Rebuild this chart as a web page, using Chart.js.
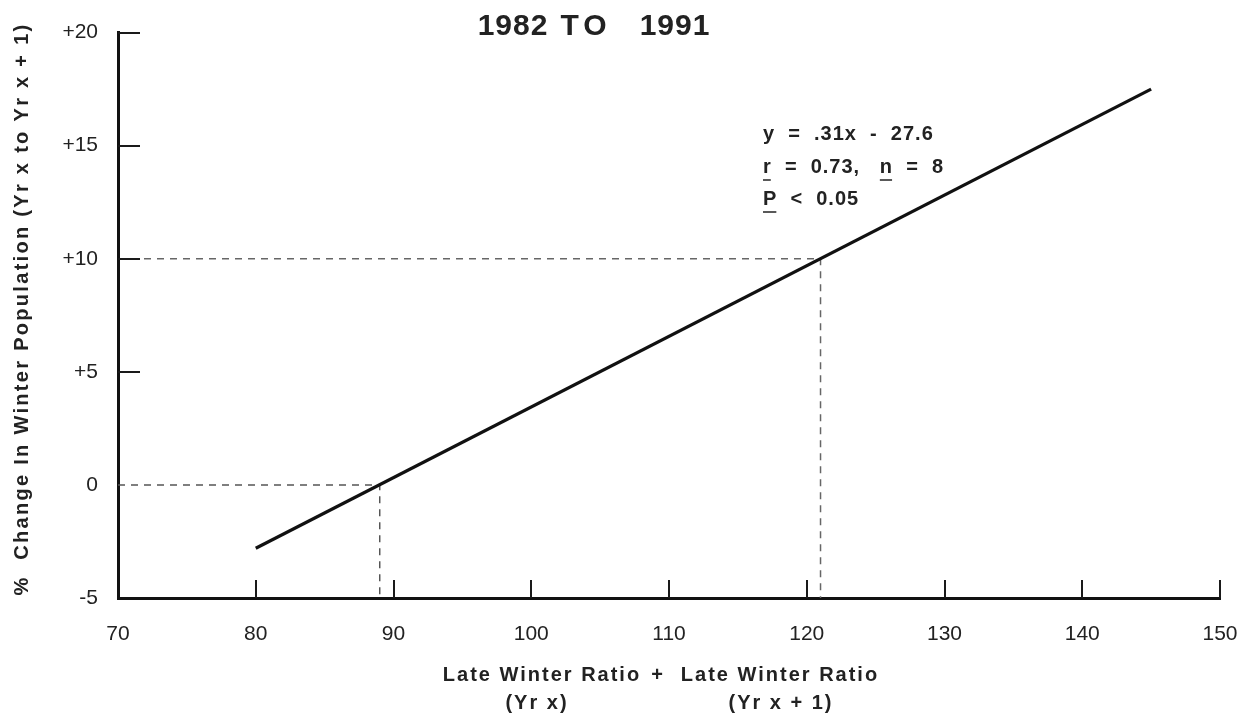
<!DOCTYPE html>
<html>
<head>
<meta charset="utf-8">
<script src="https://cdn.jsdelivr.net/npm/chart.js@4"></script>
<style>
  html, body { margin: 0; padding: 0; background: #ffffff; }
  #wrap { width: 1256px; height: 717px; }
</style>
</head>
<body>
<div id="wrap"><canvas id="c" width="1256" height="717"></canvas></div>
<script>
// ---- data ----
const xTickValues = [70, 80, 90, 100, 110, 120, 130, 140, 150];
const xTickLabels = ['70', '80', '90', '100', '110', '120', '130', '140', '150'];
const yTickValues = [-5, 0, 5, 10, 15, 20];
const yTickLabels = ['-5', '0', '+5', '+10', '+15', '+20'];
const xTickMarks = [80, 90, 100, 110, 120, 130, 140, 150];
const yTickMarks = [5, 10, 15, 20];

const regressionX = [80, 145];
const regressionY = [-2.8, 17.5];
const guideHighX = [70, 121, 121];
const guideHighY = [10, 10, -5];
const guideLowX = [70, 89, 89];
const guideLowY = [0, 0, -5];

const titleWords = ['1982', 'TO', '1991'];
const statLines = ['y  =  .31x  -  27.6', 'r  =  0.73,   n  =  8', 'P  <  0.05'];
const xTitleParts = ['Late Winter Ratio', '+', 'Late Winter Ratio'];
const xTitleSubs = ['(Yr x)', '(Yr x + 1)'];
const yTitle = '%  Change In Winter Population (Yr x to Yr x + 1)';

function pts(xs, ys) { return xs.map((x, i) => ({ x: x, y: ys[i] })); }

const TEXT = '#222222';
const FONT = '"Liberation Sans", Arial, Helvetica, sans-serif';

const decor = {
  id: 'decor',
  afterDraw(chart) {
    const ctx = chart.ctx;
    const xs = chart.scales.x, ys = chart.scales.y;
    ctx.save();
    // inward tick marks
    ctx.strokeStyle = '#1a1a1a';
    ctx.lineWidth = 2;
    xTickMarks.forEach(v => {
      const px = Math.round(xs.getPixelForValue(v));
      ctx.beginPath(); ctx.moveTo(px, ys.bottom); ctx.lineTo(px, ys.bottom - 18); ctx.stroke();
    });
    yTickMarks.forEach(v => {
      const py = Math.round(ys.getPixelForValue(v));
      ctx.beginPath(); ctx.moveTo(xs.left, py); ctx.lineTo(xs.left + 22, py); ctx.stroke();
    });

    ctx.fillStyle = TEXT;
    ctx.textBaseline = 'middle';

    // title
    ctx.font = 'bold 30px ' + FONT;
    ctx.textAlign = 'center';
    const titleX = [513, 586, 675];
    const titleSpacing = ['1px', '5px', '1px'];
    titleWords.forEach((w, i) => { ctx.letterSpacing = titleSpacing[i]; ctx.fillText(w, titleX[i], 27); });

    // statistics annotation
    ctx.textAlign = 'left';
    ctx.font = 'bold 20px ' + FONT;
    ctx.letterSpacing = '1px';
    const sx = 763, sy = [134, 167, 199];
    statLines.forEach((t, i) => ctx.fillText(t, sx, sy[i]));
    // underlines beneath r, n, P
    ctx.lineWidth = 1.5;
    ctx.strokeStyle = TEXT;
    function underline(lineIdx, charIdx) {
      const t = statLines[lineIdx];
      const x0 = sx + ctx.measureText(t.slice(0, charIdx)).width;
      const w = ctx.measureText(t[charIdx]).width - 1;
      ctx.beginPath(); ctx.moveTo(x0, sy[lineIdx] + 13); ctx.lineTo(x0 + w, sy[lineIdx] + 13); ctx.stroke();
    }
    underline(1, 0);
    underline(1, statLines[1].indexOf('n'));
    underline(2, 0);

    // x-axis title
    ctx.font = 'bold 20px ' + FONT;
    ctx.letterSpacing = '2px';
    ctx.textAlign = 'center';
    ctx.fillText(xTitleParts[0], 542, 675);
    ctx.fillText(xTitleParts[1], 658, 675);
    ctx.fillText(xTitleParts[2], 780, 675);
    ctx.fillText(xTitleSubs[0], 537, 703);
    ctx.fillText(xTitleSubs[1], 781, 703);

    // y-axis title
    ctx.letterSpacing = '2.3px';
    ctx.translate(22, 309);
    ctx.rotate(-Math.PI / 2);
    ctx.fillText(yTitle, 0, 0);
    ctx.restore();
  }
};

new Chart(document.getElementById('c'), {
  type: 'scatter',
  data: {
    datasets: [
      {
        data: pts(regressionX, regressionY),
        showLine: true, borderColor: '#111111', borderWidth: 3.2,
        pointRadius: 0, fill: false
      },
      {
        data: pts(guideHighX, guideHighY),
        showLine: true, borderColor: '#666666', borderWidth: 1.5, borderDash: [7, 6],
        pointRadius: 0, fill: false
      },
      {
        data: pts(guideLowX, guideLowY),
        showLine: true, borderColor: '#555555', borderWidth: 1.5, borderDash: [7, 6],
        pointRadius: 0, fill: false
      }
    ]
  },
  options: {
    responsive: false,
    animation: false,
    layout: { padding: { left: 8, top: 29, right: 36, bottom: 0 } },
    plugins: { legend: { display: false }, tooltip: { enabled: false }, title: { display: false } },
    scales: {
      x: {
        type: 'linear', min: 70, max: 150,
        afterFit(s) { s.height = 119; s.paddingLeft = 0; s.paddingRight = 0; },
        afterBuildTicks(s) { s.ticks = xTickValues.map(v => ({ value: v })); },
        grid: { display: true, drawOnChartArea: false, drawTicks: false },
        border: { display: true, color: '#111111', width: 3 },
        ticks: {
          padding: 24, color: TEXT, maxRotation: 0,
          font: { family: FONT, size: 21 },
          callback: v => xTickLabels[xTickValues.indexOf(v)]
        }
      },
      y: {
        type: 'linear', min: -5, max: 20,
        afterFit(s) { s.width = 110; },
        afterBuildTicks(s) { s.ticks = yTickValues.map(v => ({ value: v })); },
        grid: { display: true, drawOnChartArea: false, drawTicks: false },
        border: { display: true, color: '#111111', width: 3 },
        ticks: {
          padding: 20, color: TEXT,
          font: { family: FONT, size: 21 },
          callback: v => yTickLabels[yTickValues.indexOf(v)]
        }
      }
    }
  },
  plugins: [decor]
});
</script>
</body>
</html>
